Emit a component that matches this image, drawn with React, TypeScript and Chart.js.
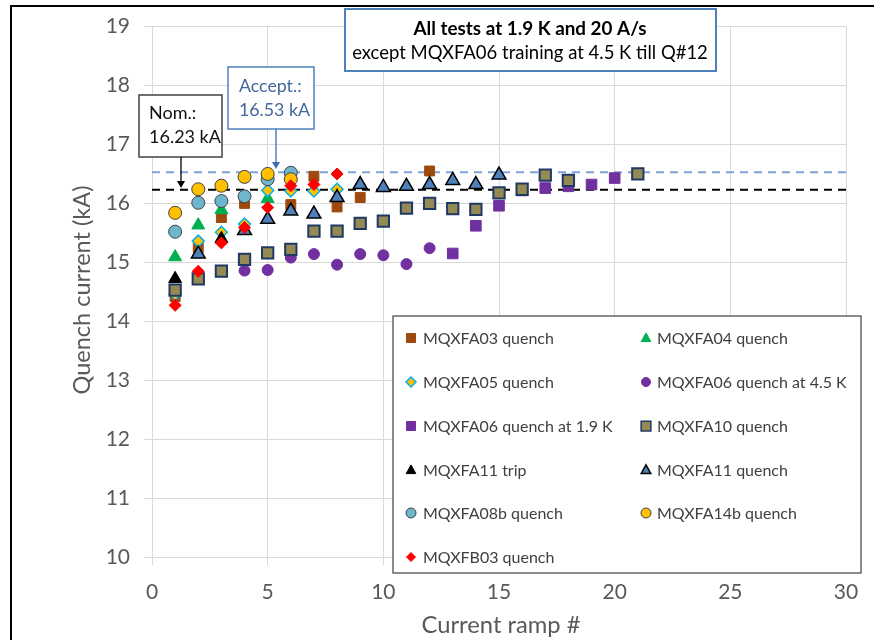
import React, { useEffect, useRef } from 'react';
import { Chart, registerables } from 'chart.js';
Chart.register(...registerables);

// ---------- data ----------
const xTicks = [0, 5, 10, 15, 20, 25, 30];
const yTicks = [10, 11, 12, 13, 14, 15, 16, 17, 18, 19];

const mqxfa03X = [1, 2, 3, 4, 6, 7, 8, 9, 12];
const mqxfa03Y = [14.42, 15.25, 15.76, 16.0, 15.98, 16.46, 15.94, 16.1, 16.55];

const mqxfa04X = [1, 2, 3, 5];
const mqxfa04Y = [15.09, 15.63, 15.89, 16.08];

const mqxfa05X = [1, 2, 3, 4, 5, 6, 7, 8];
const mqxfa05Y = [14.46, 15.36, 15.51, 15.65, 16.22, 16.21, 16.21, 16.24];

const mqxfa06hX = [4, 5, 6, 7, 8, 9, 10, 11, 12];
const mqxfa06hY = [14.86, 14.87, 15.08, 15.14, 14.96, 15.14, 15.12, 14.97, 15.24];

const mqxfa06lX = [13, 14, 15, 16, 17, 18, 19, 20];
const mqxfa06lY = [15.15, 15.62, 15.96, 16.22, 16.26, 16.29, 16.32, 16.43];

const mqxfa10X = [1, 2, 3, 4, 5, 6, 7, 8, 9, 10, 11, 12, 13, 14, 15, 16, 17, 18, 21];
const mqxfa10Y = [14.53, 14.72, 14.85, 15.05, 15.16, 15.22, 15.53, 15.53, 15.66, 15.7, 15.92, 16.0, 15.91, 15.9, 16.18, 16.24, 16.48, 16.39, 16.5];

const mqxfa11tX = [1, 3];
const mqxfa11tY = [14.72, 15.4];

const mqxfa11qX = [2, 4, 5, 6, 7, 8, 9, 10, 11, 12, 13, 14, 15];
const mqxfa11qY = [15.14, 15.54, 15.73, 15.87, 15.82, 16.1, 16.32, 16.27, 16.29, 16.32, 16.39, 16.32, 16.48];

const mqxfa08bX = [1, 2, 3, 4, 5, 6];
const mqxfa08bY = [15.52, 16.01, 16.04, 16.12, 16.41, 16.52];

const mqxfa14bX = [1, 2, 3, 4, 5, 6];
const mqxfa14bY = [15.84, 16.24, 16.3, 16.45, 16.5, 16.41];

const mqxfb03X = [1, 2, 3, 4, 5, 6, 7, 8];
const mqxfb03Y = [14.27, 14.85, 15.33, 15.59, 15.93, 16.3, 16.32, 16.5];

const nominal = 16.23;
const acceptance = 16.53;
const lineX = [0, 30];

const FONT = 'Lato, "Open Sans", sans-serif';

type Spec = {
  label: string; xs: number[]; ys: number[]; style: string;
  fill: string; stroke: string; bw: number; r: number; lr: number;
};

const specs: Spec[] = [
  { label: 'MQXFA03 quench', xs: mqxfa03X, ys: mqxfa03Y, style: 'rect', fill: '#9E4A0E', stroke: '#9E4A0E', bw: 1, r: 7, lr: 6 },
  { label: 'MQXFA04 quench', xs: mqxfa04X, ys: mqxfa04Y, style: 'triangle', fill: '#00B050', stroke: '#00B050', bw: 1, r: 7.5, lr: 6 },
  { label: 'MQXFA05 quench', xs: mqxfa05X, ys: mqxfa05Y, style: 'rectRot', fill: '#FFC000', stroke: '#00B0F0', bw: 1.5, r: 6, lr: 5 },
  { label: 'MQXFA06 quench at 4.5 K', xs: mqxfa06hX, ys: mqxfa06hY, style: 'circle', fill: '#7030A0', stroke: '#7030A0', bw: 1, r: 5.5, lr: 4.5 },
  { label: 'MQXFA06 quench at 1.9 K', xs: mqxfa06lX, ys: mqxfa06lY, style: 'rect', fill: '#7030A0', stroke: '#7030A0', bw: 1, r: 7.5, lr: 6 },
  { label: 'MQXFA10 quench', xs: mqxfa10X, ys: mqxfa10Y, style: 'rect', fill: '#948A54', stroke: '#1F3864', bw: 2, r: 8, lr: 6.5 },
  { label: 'MQXFA11 trip', xs: mqxfa11tX, ys: mqxfa11tY, style: 'triangle', fill: '#000000', stroke: '#000000', bw: 1, r: 7.5, lr: 6 },
  { label: 'MQXFA11 quench', xs: mqxfa11qX, ys: mqxfa11qY, style: 'triangle', fill: '#4F81BD', stroke: '#000000', bw: 1.5, r: 8, lr: 6 },
  { label: 'MQXFA08b quench', xs: mqxfa08bX, ys: mqxfa08bY, style: 'circle', fill: '#6CB6CE', stroke: '#404040', bw: 1, r: 6.5, lr: 5 },
  { label: 'MQXFA14b quench', xs: mqxfa14bX, ys: mqxfa14bY, style: 'circle', fill: '#FFC000', stroke: '#404040', bw: 1, r: 6.5, lr: 5 },
  { label: 'MQXFB03 quench', xs: mqxfb03X, ys: mqxfb03Y, style: 'rectRot', fill: '#FF0000', stroke: '#FF0000', bw: 1, r: 6, lr: 4.5 },
];

function fitSize(ctx: CanvasRenderingContext2D, text: string, width: number, weight = 'normal') {
  ctx.font = `${weight} 100px ${FONT}`;
  const m = ctx.measureText(text).width;
  return (100 * width) / m;
}

function drawMarker(ctx: CanvasRenderingContext2D, s: Spec, x: number, y: number, r: number) {
  ctx.save();
  ctx.fillStyle = s.fill;
  ctx.strokeStyle = s.stroke;
  ctx.lineWidth = Math.min(s.bw, 1.5);
  ctx.beginPath();
  if (s.style === 'circle') {
    ctx.arc(x, y, r, 0, Math.PI * 2);
  } else if (s.style === 'rect') {
    const h = r * 0.75;
    ctx.rect(x - h, y - h, 2 * h, 2 * h);
  } else if (s.style === 'rectRot') {
    ctx.moveTo(x, y - r); ctx.lineTo(x + r, y); ctx.lineTo(x, y + r); ctx.lineTo(x - r, y); ctx.closePath();
  } else if (s.style === 'triangle') {
    ctx.moveTo(x, y - r * 0.85); ctx.lineTo(x + r * 0.8, y + r * 0.6); ctx.lineTo(x - r * 0.8, y + r * 0.6); ctx.closePath();
  }
  ctx.fill();
  ctx.stroke();
  ctx.restore();
}

function arrowDown(ctx: CanvasRenderingContext2D, x: number, y0: number, y1: number, color: string) {
  ctx.save();
  ctx.strokeStyle = color;
  ctx.fillStyle = color;
  ctx.lineWidth = 1.3;
  ctx.beginPath();
  ctx.moveTo(x, y0);
  ctx.lineTo(x, y1 - 5);
  ctx.stroke();
  ctx.beginPath();
  ctx.moveTo(x - 4, y1 - 7);
  ctx.lineTo(x + 4, y1 - 7);
  ctx.lineTo(x, y1);
  ctx.closePath();
  ctx.fill();
  ctx.restore();
}

const overlayPlugin = {
  id: 'overlay',
  afterDraw(chart: any) {
    const ctx: CanvasRenderingContext2D = chart.ctx;
    ctx.save();

    // outer frame
    ctx.strokeStyle = '#000';
    ctx.lineWidth = 2;
    ctx.beginPath();
    ctx.moveTo(11, 640);
    ctx.lineTo(11, 6);
    ctx.lineTo(874, 6);
    ctx.stroke();

    // axis titles
    ctx.fillStyle = '#595959';
    ctx.textAlign = 'center';
    ctx.textBaseline = 'middle';
    let fs = fitSize(ctx, 'Current ramp #', 159);
    ctx.font = `${fs}px ${FONT}`;
    ctx.fillText('Current ramp #', 501, 625);
    fs = fitSize(ctx, 'Quench current (kA)', 209);
    ctx.save();
    ctx.translate(82, 290);
    ctx.rotate(-Math.PI / 2);
    ctx.font = `${fs}px ${FONT}`;
    ctx.fillText('Quench current (kA)', 0, 0);
    ctx.restore();

    // top annotation box
    ctx.fillStyle = '#fff';
    ctx.fillRect(345, 9, 371, 62);
    ctx.strokeStyle = '#4F81BD';
    ctx.lineWidth = 2;
    ctx.strokeRect(345, 9, 371, 62);
    ctx.fillStyle = '#000';
    fs = fitSize(ctx, 'All tests at 1.9 K and 20 A/s', 233, 'bold');
    ctx.font = `bold ${fs}px ${FONT}`;
    ctx.fillText('All tests at 1.9 K and 20 A/s', 530, 29);
    fs = fitSize(ctx, 'except MQXFA06 training at 4.5 K till Q#12', 356);
    ctx.font = `${fs}px ${FONT}`;
    ctx.fillText('except MQXFA06 training at 4.5 K till Q#12', 530, 53);

    // Accept box
    ctx.fillStyle = '#fff';
    ctx.fillRect(228, 67, 86, 62);
    ctx.strokeStyle = '#4F81BD';
    ctx.lineWidth = 1.5;
    ctx.strokeRect(228, 67, 86, 62);
    ctx.textAlign = 'left';
    ctx.fillStyle = '#44679B';
    fs = fitSize(ctx, '16.53 kA', 71);
    ctx.font = `${fs}px ${FONT}`;
    ctx.fillText('Accept.:', 239, 86);
    ctx.fillText('16.53 kA', 239, 110);
    arrowDown(ctx, 276, 129, 169, '#3F6DB3');

    // Nom box
    ctx.fillStyle = '#fff';
    ctx.fillRect(139, 95, 83, 62);
    ctx.strokeStyle = '#404040';
    ctx.lineWidth = 1.5;
    ctx.strokeRect(139, 95, 83, 62);
    ctx.fillStyle = '#111';
    fs = fitSize(ctx, '16.23 kA', 72);
    ctx.font = `${fs}px ${FONT}`;
    ctx.fillText('Nom.:', 149, 113);
    ctx.fillText('16.23 kA', 149, 137);
    arrowDown(ctx, 181, 157, 188, '#000');

    // legend
    ctx.fillStyle = '#fff';
    ctx.fillRect(393, 316, 468, 257);
    ctx.strokeStyle = '#404040';
    ctx.lineWidth = 1.2;
    ctx.strokeRect(393, 316, 468, 257);
    fs = fitSize(ctx, 'MQXFA03 quench', 131);
    ctx.font = `${fs}px ${FONT}`;
    ctx.fillStyle = '#404040';
    ctx.textAlign = 'left';
    const rowsY = [338, 382, 426, 470, 513, 557];
    specs.forEach((s, i) => {
      const col = i % 2;
      const row = Math.floor(i / 2);
      const mx = col === 0 ? 411 : 646;
      const tx = col === 0 ? 423 : 657;
      const y = rowsY[row];
      drawMarker(ctx, s, mx, y, s.lr);
      ctx.fillStyle = '#404040';
      ctx.fillText(s.label, tx, y + 1);
    });

    ctx.restore();
  },
};

export default function App() {
  const ref = useRef<HTMLCanvasElement | null>(null);
  useEffect(() => {
    if (!ref.current) return;
    const n = specs.length;
    const datasets: any[] = specs.map((s, i) => ({
      label: s.label,
      data: s.xs.map((x, j) => ({ x, y: s.ys[j] })),
      pointStyle: s.style,
      pointRadius: s.r,
      pointBackgroundColor: s.fill,
      pointBorderColor: s.stroke,
      pointBorderWidth: s.bw,
      showLine: false,
      order: n - i,
    }));
    datasets.push({
      label: 'Accept',
      data: lineX.map((x) => ({ x, y: acceptance })),
      showLine: true,
      borderColor: '#7FA3D8',
      borderWidth: 2,
      borderDash: [8, 6],
      pointRadius: 0,
      order: 100,
    });
    datasets.push({
      label: 'Nom',
      data: lineX.map((x) => ({ x, y: nominal })),
      showLine: true,
      borderColor: '#000',
      borderWidth: 2,
      borderDash: [8, 6],
      pointRadius: 0,
      order: 101,
    });

    const chart = new Chart(ref.current, {
      type: 'scatter',
      data: { datasets },
      plugins: [overlayPlugin],
      options: {
        animation: false,
        responsive: false,
        devicePixelRatio: 1,
        layout: { padding: { top: 25, right: 28, left: 0, bottom: 0 } },
        plugins: { legend: { display: false }, tooltip: { enabled: false } },
        scales: {
          x: {
            type: 'linear',
            min: 0,
            max: 30,
            afterFit: (s: any) => { s.height = 83; },
            afterBuildTicks: (s: any) => { s.ticks = xTicks.map((v) => ({ value: v })); },
            ticks: { stepSize: 5, color: '#595959', font: { family: FONT, size: 21 }, padding: 15, maxRotation: 0 },
            grid: { color: '#D9D9D9', tickLength: 8, tickColor: '#D9D9D9' },
            border: { color: '#D9D9D9' },
          },
          y: {
            type: 'linear',
            min: 10,
            max: 19,
            afterFit: (s: any) => { s.width = 152; },
            afterBuildTicks: (s: any) => { s.ticks = yTicks.map((v) => ({ value: v })); },
            ticks: { stepSize: 1, color: '#595959', font: { family: FONT, size: 21 }, padding: 14 },
            grid: { color: '#D9D9D9', tickLength: 8, tickColor: '#D9D9D9' },
            border: { color: '#D9D9D9' },
          },
        },
      },
    });
    return () => chart.destroy();
  }, []);
  return (
    <div style={{ position: 'absolute', left: 0, top: 0, width: 874, height: 640, background: '#fff' }}>
      <canvas ref={ref} width={874} height={640} style={{ display: 'block' }} />
    </div>
  );
}
